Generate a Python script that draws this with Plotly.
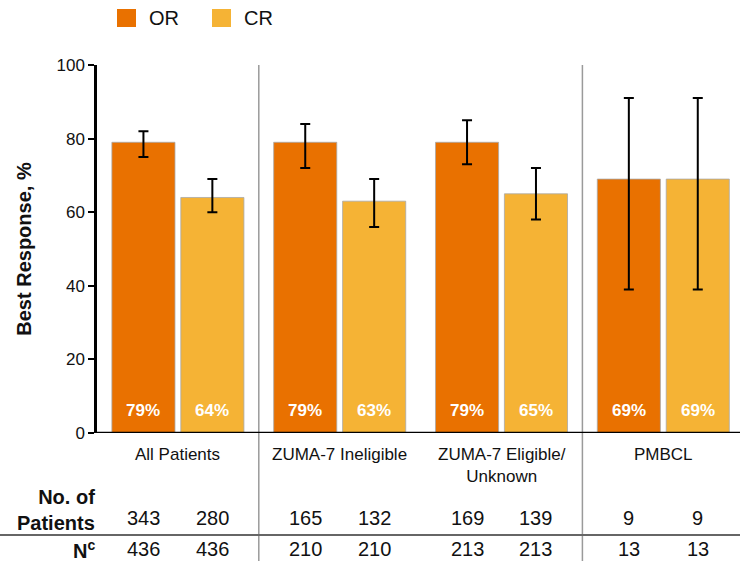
import plotly.graph_objects as go

# Response rates by patient subgroup
groups = ["All Patients", "ZUMA-7 Ineligible", "ZUMA-7 Eligible/<br>Unknown", "PMBCL"]
or_rate = [79, 79, 79, 69]
cr_rate = [64, 63, 65, 69]
or_lo = [75, 72, 73, 39]
or_hi = [82, 84, 85, 91]
cr_lo = [60, 56, 58, 39]
cr_hi = [69, 69, 72, 91]
n_or = [343, 165, 169, 9]
n_cr = [280, 132, 139, 9]
n_total = [436, 210, 213, 13]

OR_COLOR = "#E97100"
CR_COLOR = "#F5B335"
FONT = "Arial, Liberation Sans, sans-serif"
TXT = "#111111"

OFF = 0.213
WIDTH = 0.39
x_idx = list(range(len(groups)))
x_or = [i - OFF for i in x_idx]
x_cr = [i + OFF for i in x_idx]

fig = go.Figure()
for xs, vals, lo, hi, col, name in ((x_or, or_rate, or_lo, or_hi, OR_COLOR, "OR"),
                                    (x_cr, cr_rate, cr_lo, cr_hi, CR_COLOR, "CR")):
    fig.add_trace(go.Bar(
        x=xs, y=vals, width=WIDTH, name=name,
        marker=dict(color=col, line=dict(width=0.8, color="#A8A8A8")),
        error_y=dict(type="data", symmetric=False,
                     array=[h - v for h, v in zip(hi, vals)],
                     arrayminus=[v - l for l, v in zip(lo, vals)],
                     color="black", thickness=2, width=5),
        showlegend=False,
    ))

annotations = []
shapes = []

PLOT_H = 368.0
PLOT_W = 643.0


def py(px):
    """Pixel row (from top of figure) -> paper y."""
    return (433 - px) / PLOT_H


def pxp(px):
    """Pixel column -> paper x."""
    return (px - 97) / PLOT_W


def label(x, y, text, size, xref="paper", yref="paper", **kw):
    d = dict(x=x, y=y, xref=xref, yref=yref, text=text, showarrow=False,
             yanchor="middle", font=dict(size=size, color=kw.pop("color", TXT), family=FONT))
    d.update(kw)
    annotations.append(d)


# value labels at the base of each bar
for xs, vals in ((x_or, or_rate), (x_cr, cr_rate)):
    for x, v in zip(xs, vals):
        label(x, 6, f"<b>{v}%</b>", 17, xref="x", yref="y", color="white")

# group labels under the axis
for i, g in enumerate(groups):
    label(i, py(443), g, 17, xref="x", yanchor="top", align="center")

# patient count table
for xs, vals in ((x_or, n_or), (x_cr, n_cr)):
    for x, v in zip(xs, vals):
        label(x, py(518), str(v), 20, xref="x")
for xs in (x_or, x_cr):
    for x, v in zip(xs, n_total):
        label(x, py(549), str(v), 20, xref="x")

label(0, py(510), "<b>No. of<br>Patients</b>", 20, xanchor="right", align="right")
label(0, py(549), "<b>N<sup>c</sup></b>", 20, xanchor="right")

# legend drawn as swatches + labels
for x0, name, col in ((117, "OR", OR_COLOR), (212, "CR", CR_COLOR)):
    shapes.append(dict(type="rect", xref="paper", yref="paper",
                       x0=pxp(x0), x1=pxp(x0 + 19), y0=py(27), y1=py(9),
                       fillcolor=col, line=dict(width=0)))
    label(pxp(x0 + 30), py(18), name, 20, xanchor="left")

# section dividers and table rule
for xd in (0.5, 2.5):
    shapes.append(dict(type="line", xref="x", yref="paper", x0=xd, x1=xd,
                       y0=1, y1=py(561), line=dict(color="#9A9A9A", width=1.5)))
shapes.append(dict(type="line", xref="paper", yref="paper", x0=pxp(0), x1=1,
                   y0=py(535), y1=py(535), line=dict(color="#666666", width=2)))
# x axis baseline
shapes.append(dict(type="line", xref="paper", yref="y", x0=0, x1=1, y0=0, y1=0,
                   line=dict(color="black", width=2.5)))

fig.update_layout(
    width=740, height=561,
    margin=dict(l=97, r=0, t=65, b=128),
    plot_bgcolor="white", paper_bgcolor="white",
    barmode="overlay",
    font=dict(family=FONT, color=TXT),
    xaxis=dict(range=[-0.5, 3.474], showticklabels=False, ticks="",
               showgrid=False, zeroline=False, showline=False, fixedrange=True),
    yaxis=dict(range=[0, 100], tickvals=[0, 20, 40, 60, 80, 100],
               ticks="outside", ticklen=6, tickwidth=2, tickcolor="black",
               showline=True, linecolor="black", linewidth=2.5,
               showgrid=False, zeroline=False,
               tickfont=dict(size=17, color=TXT, family=FONT),
               title=dict(text="<b>Best Response, %</b>", standoff=20,
                          font=dict(size=20, color=TXT, family=FONT))),
    annotations=annotations,
    shapes=shapes,
)

fig.write_html("out.html")
